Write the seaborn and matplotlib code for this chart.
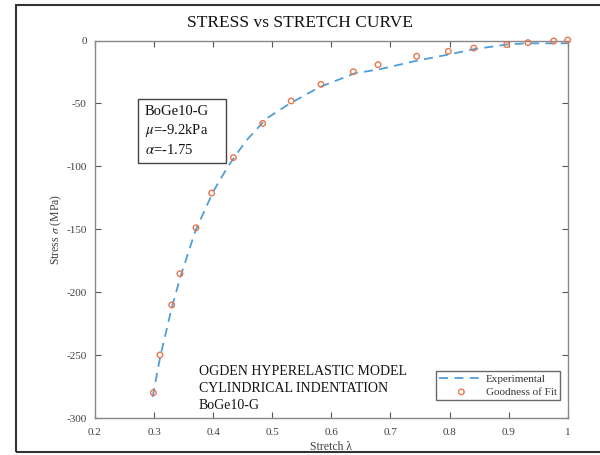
import numpy as np
import pandas as pd
import matplotlib
matplotlib.use("Agg")
import matplotlib.pyplot as plt
import seaborn as sns

# Data
exp_stretch = [0.2975, 0.31, 0.33, 0.345, 0.37, 0.40, 0.425, 0.455, 0.49, 0.53, 0.58, 0.64, 0.68, 0.745, 0.80, 0.84, 0.90, 0.93, 1.0]
exp_stress = [-283, -252, -212, -187, -151, -120, -100, -80, -62, -50, -37, -26, -23, -16, -11, -7, -3, -2.3, -2.2]
fit_stretch = [0.2987, 0.31, 0.3298, 0.3438, 0.3709, 0.3974, 0.4343, 0.4838, 0.532, 0.5825, 0.6372, 0.679, 0.7444, 0.7979, 0.8409, 0.8967, 0.9327, 0.9764, 1.0]
fit_stress = [-279.7, -249.7, -210, -185.2, -148.7, -121.1, -93, -65.8, -48, -34.8, -24.8, -19.2, -12.5, -8.6, -6.0, -3.3, -1.7, -0.4, 0.4]
xticks = [0.2, 0.3, 0.4, 0.5, 0.6, 0.7, 0.8, 0.9, 1.0]
xticklabels = ["0.2", "0.3", "0.4", "0.5", "0.6", "0.7", "0.8", "0.9", "1"]
yticks = [0, -50, -100, -150, -200, -250, -300]
yticklabels = ["0", "-50", "-100", "-150", "-200", "-250", "-300"]

sns.set_style("ticks")
plt.rcParams['font.family'] = ['Liberation Serif', 'DejaVu Serif']
plt.rcParams['mathtext.fontset'] = 'stix'
plt.rcParams['axes.unicode_minus'] = False

blue = "#4d9fd9"
orange = "#e8764f"

fig = plt.figure(figsize=(6, 4.55), dpi=100)
ax = fig.add_axes([95/600, 1-418.3/455, (567.7-95)/600, (418.3-40.5)/455])

df_exp = pd.DataFrame({"x": exp_stretch, "y": exp_stress})
df_fit = pd.DataFrame({"x": fit_stretch, "y": fit_stress})

sns.lineplot(data=df_exp, x="x", y="y", ax=ax, color=blue, linewidth=1.3,
             linestyle=(0, (5, 3.5)), label="Experimental", sort=False)
sns.scatterplot(data=df_fit, x="x", y="y", ax=ax, marker="o", s=16,
                facecolors="none", edgecolor=orange, linewidth=1.0,
                label="Goodness of Fit", zorder=3, clip_on=False)

ax.set_xlim(0.2, 1.0)
ax.set_ylim(-300, 0)
ax.set_xticks(xticks)
ax.set_xticklabels(xticklabels)
ax.set_yticks(yticks)
ax.set_yticklabels(yticklabels)
ax.tick_params(direction="in", length=4, width=0.8, colors="#555555",
               labelcolor="#404040", labelsize=8, top=True, right=True,
               labeltop=False, labelright=False)
ax.tick_params(axis="x", pad=7)
ax.tick_params(axis="y", pad=6)
for sp in ax.spines.values():
    sp.set_visible(True)
    sp.set_color("#888888")
    sp.set_linewidth(1.0)

ax.set_xlabel("Stretch λ", fontsize=8.5, color="#404040", labelpad=3)
ax.set_ylabel(r"Stress $\sigma$ (MPa)", fontsize=8.5, color="#404040", labelpad=2)

fig.text(0.5, 1-23/455, "STRESS vs STRETCH CURVE", ha="center", va="center",
         fontsize=12.5, color="#111111")

# parameter text box
bx0, bx1 = (137.7-95)/472.7, (226-95)/472.7
by0, by1 = (418.3-162.7)/377.8, (418.3-99)/377.8
ax.add_patch(plt.Rectangle((bx0, by0), bx1-bx0, by1-by0, transform=ax.transAxes,
                           fill=True, facecolor="white", edgecolor="#444444",
                           linewidth=1.0, zorder=4))
ax.text((145-95)/472.7, (418.3-131)/377.8, "BoGe10-G\n$\\mu$=-9.2kPa\n$\\alpha$=-1.75",
        transform=ax.transAxes, ha="left", va="center", fontsize=10.5,
        linespacing=1.38, color="#111111", zorder=5)

ax.text((199-95)/472.7, (418.3-388.5)/377.8,
        "OGDEN HYPERELASTIC MODEL\nCYLINDRICAL INDENTATION\nBoGe10-G",
        transform=ax.transAxes, ha="left", va="center", fontsize=10,
        linespacing=1.36, color="#111111")

leg = ax.legend(loc="lower right", bbox_to_anchor=(0.984, 0.048), fontsize=8,
                frameon=True, fancybox=False, handlelength=4.0, borderpad=0.3,
                labelspacing=0.25, handletextpad=0.2, borderaxespad=0)
leg.get_frame().set_edgecolor("#444444")
leg.get_frame().set_linewidth(1.0)
for t in leg.get_texts():
    t.set_color("#333333")

# outer frame
fig.add_artist(plt.Rectangle((15.5/600, 1-452/455), 1.0, (452-5)/455,
                             transform=fig.transFigure, fill=False,
                             edgecolor="#333333", linewidth=1.5, clip_on=False))

fig.savefig("out.png", dpi=100)
